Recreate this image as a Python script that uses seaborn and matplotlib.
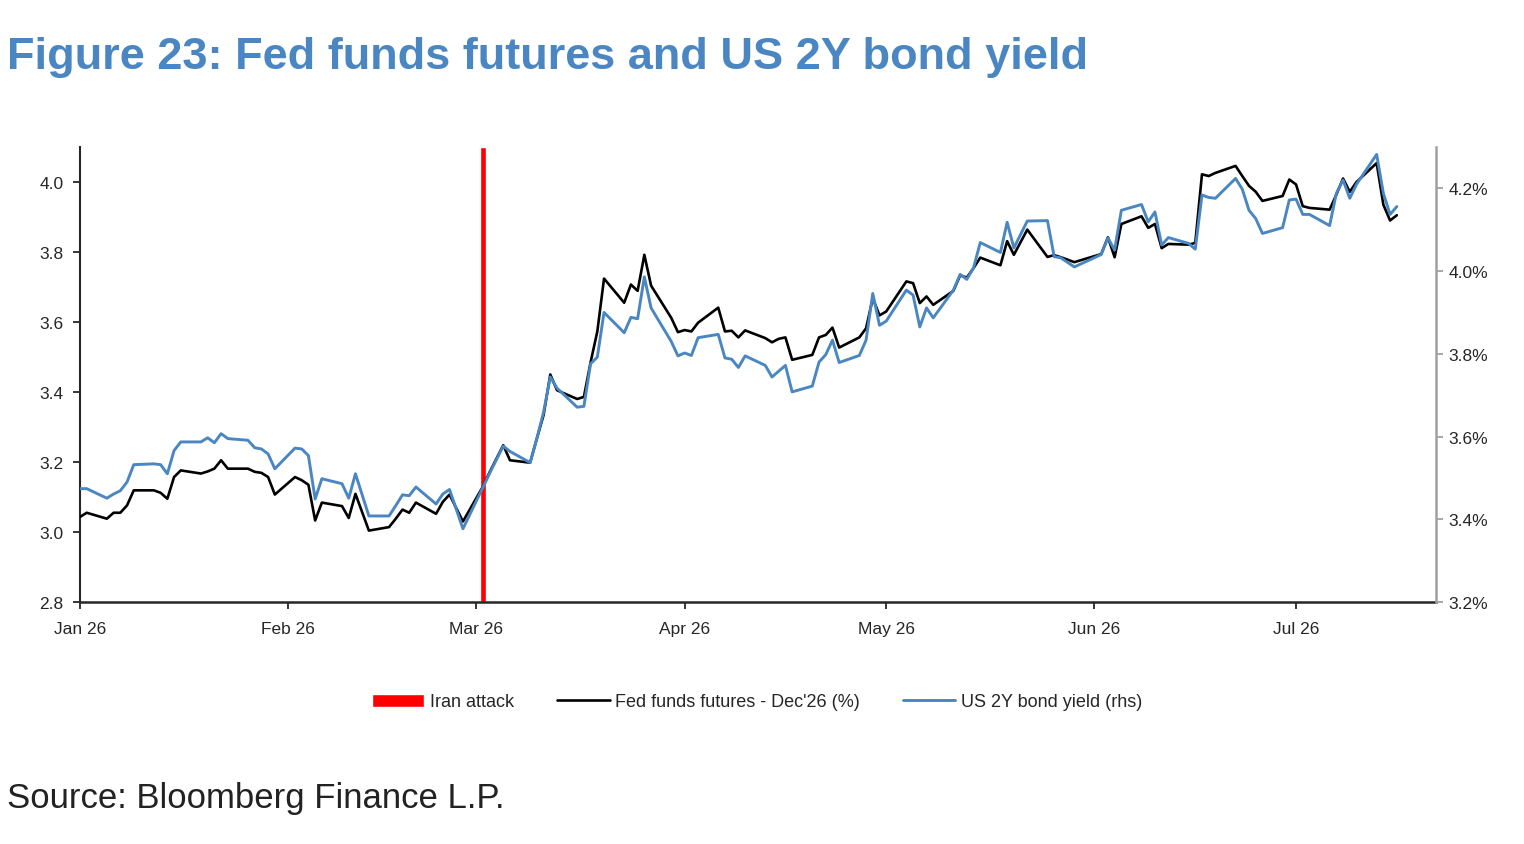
import matplotlib
matplotlib.use("Agg")
import matplotlib.pyplot as plt
import matplotlib.dates as mdates
import matplotlib.ticker as mticker
import pandas as pd
import seaborn as sns

# values
dates = [
    "2026-01-01", "2026-01-02", "2026-01-05", "2026-01-06", "2026-01-07", "2026-01-08", "2026-01-09",
    "2026-01-12", "2026-01-13", "2026-01-14", "2026-01-15", "2026-01-16", "2026-01-19", "2026-01-20",
    "2026-01-21", "2026-01-22", "2026-01-23", "2026-01-26", "2026-01-27", "2026-01-28", "2026-01-29",
    "2026-01-30", "2026-02-02", "2026-02-03", "2026-02-04", "2026-02-05", "2026-02-06", "2026-02-09",
    "2026-02-10", "2026-02-11", "2026-02-13", "2026-02-16", "2026-02-17", "2026-02-18", "2026-02-19",
    "2026-02-20", "2026-02-23", "2026-02-24", "2026-02-25", "2026-02-27", "2026-03-02", "2026-03-03",
    "2026-03-05", "2026-03-06", "2026-03-09", "2026-03-10", "2026-03-11", "2026-03-12", "2026-03-13",
    "2026-03-16", "2026-03-17", "2026-03-18", "2026-03-19", "2026-03-20", "2026-03-23", "2026-03-24",
    "2026-03-25", "2026-03-26", "2026-03-27", "2026-03-30", "2026-03-31", "2026-04-01", "2026-04-02",
    "2026-04-03", "2026-04-06", "2026-04-07", "2026-04-08", "2026-04-09", "2026-04-10", "2026-04-13",
    "2026-04-14", "2026-04-15", "2026-04-16", "2026-04-17", "2026-04-20", "2026-04-21", "2026-04-22",
    "2026-04-23", "2026-04-24", "2026-04-27", "2026-04-28", "2026-04-29", "2026-04-30", "2026-05-01",
    "2026-05-04", "2026-05-05", "2026-05-06", "2026-05-07", "2026-05-08", "2026-05-11", "2026-05-12",
    "2026-05-13", "2026-05-14", "2026-05-15", "2026-05-18", "2026-05-19", "2026-05-20", "2026-05-22",
    "2026-05-25", "2026-05-26", "2026-05-27", "2026-05-29", "2026-06-02", "2026-06-03", "2026-06-04",
    "2026-06-05", "2026-06-08", "2026-06-09", "2026-06-10", "2026-06-11", "2026-06-12", "2026-06-15",
    "2026-06-16", "2026-06-17", "2026-06-18", "2026-06-19", "2026-06-22", "2026-06-23", "2026-06-24",
    "2026-06-25", "2026-06-26", "2026-06-29", "2026-06-30", "2026-07-01", "2026-07-02", "2026-07-03",
    "2026-07-06", "2026-07-07", "2026-07-08", "2026-07-09", "2026-07-10", "2026-07-13", "2026-07-14",
    "2026-07-15", "2026-07-16",
]

fed_funds = [
    3.043, 3.055, 3.038, 3.055, 3.055, 3.076, 3.119,
    3.119, 3.112, 3.095, 3.157, 3.176, 3.167, 3.173,
    3.181, 3.205, 3.181, 3.181, 3.172, 3.169, 3.157,
    3.107, 3.157, 3.148, 3.135, 3.033, 3.084, 3.074,
    3.040, 3.109, 3.004, 3.014, 3.038, 3.064, 3.055,
    3.084, 3.052, 3.086, 3.107, 3.030, 3.131, 3.172,
    3.248, 3.205, 3.198, 3.267, 3.334, 3.450, 3.405,
    3.380, 3.386, 3.485, 3.573, 3.724, 3.655, 3.707,
    3.689, 3.792, 3.704, 3.612, 3.571, 3.577, 3.573,
    3.598, 3.641, 3.573, 3.575, 3.556, 3.576, 3.554,
    3.542, 3.552, 3.556, 3.492, 3.506, 3.556, 3.563,
    3.584, 3.527, 3.556, 3.582, 3.668, 3.619, 3.630,
    3.716, 3.711, 3.654, 3.673, 3.649, 3.689, 3.733,
    3.727, 3.754, 3.784, 3.762, 3.831, 3.792, 3.864,
    3.786, 3.791, 3.785, 3.771, 3.794, 3.842, 3.785,
    3.880, 3.902, 3.869, 3.880, 3.811, 3.823, 3.821,
    3.826, 4.022, 4.017, 4.026, 4.046, 4.017, 3.989,
    3.972, 3.946, 3.960, 4.007, 3.993, 3.931, 3.926,
    3.921, 3.964, 4.010, 3.972, 4.000, 4.054, 3.935,
    3.890, 3.905,
]

us_2y = [
    3.474, 3.474, 3.451, 3.461, 3.469, 3.490, 3.532,
    3.534, 3.532, 3.510, 3.566, 3.587, 3.587, 3.597,
    3.585, 3.607, 3.595, 3.591, 3.573, 3.570, 3.558,
    3.522, 3.572, 3.570, 3.554, 3.449, 3.498, 3.486,
    3.451, 3.510, 3.408, 3.408, 3.433, 3.459, 3.457,
    3.478, 3.437, 3.461, 3.472, 3.377, 3.478, 3.512,
    3.577, 3.564, 3.537, 3.595, 3.659, 3.744, 3.717,
    3.671, 3.673, 3.776, 3.792, 3.900, 3.851, 3.888,
    3.885, 3.986, 3.911, 3.830, 3.795, 3.802, 3.796,
    3.839, 3.847, 3.790, 3.787, 3.767, 3.795, 3.772,
    3.744, 3.758, 3.772, 3.708, 3.722, 3.780, 3.798,
    3.833, 3.779, 3.796, 3.833, 3.946, 3.869, 3.879,
    3.954, 3.942, 3.865, 3.911, 3.887, 3.954, 3.992,
    3.980, 4.008, 4.069, 4.045, 4.118, 4.056, 4.121,
    4.122, 4.035, 4.032, 4.010, 4.040, 4.080, 4.051,
    4.147, 4.161, 4.119, 4.143, 4.063, 4.081, 4.067,
    4.053, 4.184, 4.178, 4.176, 4.224, 4.198, 4.147,
    4.127, 4.091, 4.105, 4.172, 4.174, 4.137, 4.137,
    4.110, 4.188, 4.220, 4.176, 4.210, 4.282, 4.188,
    4.137, 4.156,
]

attack_date = "2026-03-02"

BLUE = "#4A87C2"
RED = "#FF0000"

sns.set_style("ticks")
plt.rcParams["font.family"] = ["Liberation Sans", "DejaVu Sans"]

df = pd.DataFrame({"date": pd.to_datetime(dates), "fed": fed_funds, "us2y": us_2y})

W, H = 1524, 845
fig = plt.figure(figsize=(W / 100, H / 100), dpi=100)
ax = fig.add_axes([80 / W, 1 - 603 / H, (1436 - 80) / W, (603 - 148) / H])

# red "Iran attack" bar, full height of the axis
bar = ax.bar(pd.to_datetime([attack_date]), [1.3], bottom=2.8, width=0.9, color=RED,
             label="Iran attack", zorder=1)
sns.lineplot(data=df, x="date", y="fed", ax=ax, color="black", linewidth=1.9,
             label="Fed funds futures - Dec'26 (%)", legend=False, zorder=3)

ax2 = ax.twinx()
sns.lineplot(data=df, x="date", y="us2y", ax=ax2, color=BLUE, linewidth=2.1,
             label="US 2Y bond yield (rhs)", legend=False)

ax.set_xlim(pd.Timestamp("2026-01-01"), pd.Timestamp("2026-07-21 20:00"))
ax.set_ylim(2.8, 4.1)
ax2.set_ylim(3.2, 4.3)
ax.set_yticks([2.8, 3.0, 3.2, 3.4, 3.6, 3.8, 4.0])
ax2.set_yticks([3.2, 3.4, 3.6, 3.8, 4.0, 4.2])
ax.yaxis.set_major_formatter(mticker.FormatStrFormatter("%.1f"))
ax2.yaxis.set_major_formatter(mticker.FuncFormatter(lambda v, p: f"{v:.1f}%"))
ax.xaxis.set_major_locator(mdates.MonthLocator())
ax.xaxis.set_major_formatter(mdates.DateFormatter("%b %y"))

ax.set_xlabel("")
ax.set_ylabel("")
ax2.set_ylabel("")

for s in ["top", "right"]:
    ax.spines[s].set_visible(False)
for s in ["top", "left", "bottom"]:
    ax2.spines[s].set_visible(False)
ax.spines["left"].set_linewidth(1.5)
ax.spines["bottom"].set_linewidth(1.8)
ax2.spines["right"].set_color("#A0A0A0")
ax2.spines["right"].set_linewidth(1.8)

ax.tick_params(axis="y", length=5, width=1.3, pad=7, labelsize=12.5)
ax.tick_params(axis="x", length=5, width=1.3, pad=9, labelsize=12.5)
ax2.tick_params(axis="y", length=5, width=1.3, color="#A0A0A0", pad=4, labelsize=12.5)

# legend order: Iran attack, Fed funds, US 2Y
h1, l1 = ax.get_legend_handles_labels()
h2, l2 = ax2.get_legend_handles_labels()
order = [l1.index("Iran attack"), l1.index("Fed funds futures - Dec'26 (%)")]
handles = [h1[i] for i in order] + h2
labels = [l1[i] for i in order] + l2
fig.legend(handles, labels, loc="center", bbox_to_anchor=(757 / W, 1 - 703 / H), ncol=3,
           frameon=False, fontsize=13, handlelength=2.9, handletextpad=0.3, columnspacing=2.4)

fig.text(7 / W, 1 - 57 / H, "Figure 23: Fed funds futures and US 2Y bond yield",
         fontsize=32.5, fontweight="bold", color=BLUE, ha="left", va="center")
fig.text(7 / W, 1 - 799 / H, "Source: Bloomberg Finance L.P.",
         fontsize=25, color="#222222", ha="left", va="center")

fig.savefig("out.png", dpi=100)
